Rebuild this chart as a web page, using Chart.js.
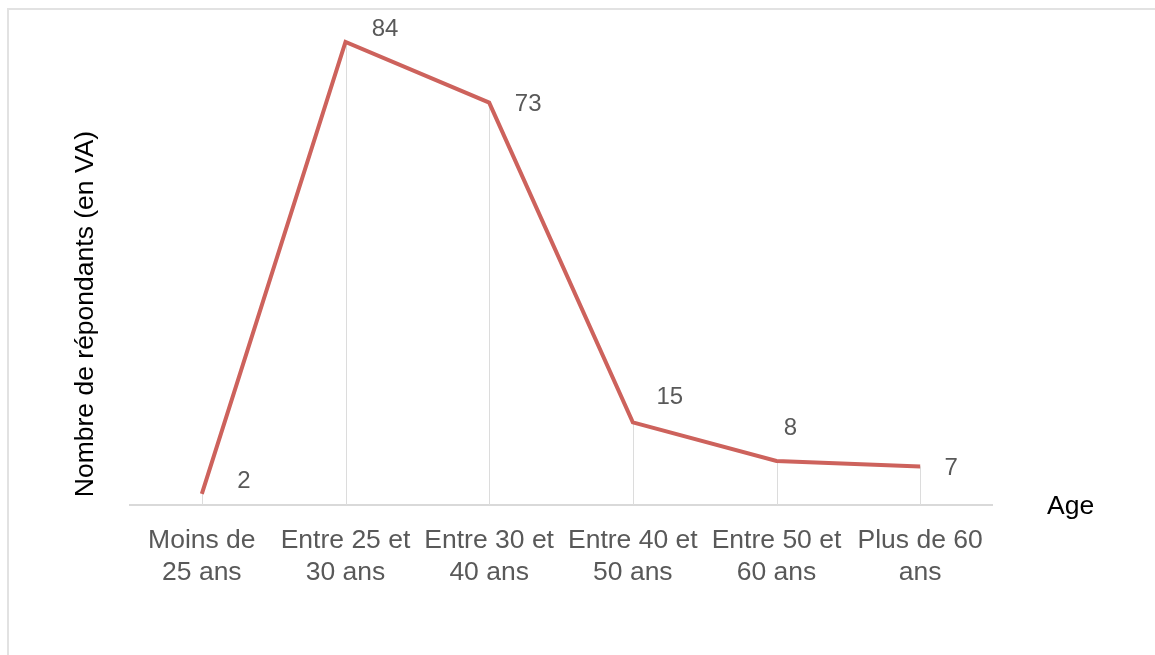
<!DOCTYPE html>
<html>
<head>
<meta charset="utf-8">
<script src="https://cdn.jsdelivr.net/npm/chart.js@4/dist/chart.umd.min.js"></script>
<style>
  html, body { margin: 0; padding: 0; background: #fff; overflow: hidden; }
  #frame { position: absolute; left: 7px; top: 8px; width: 2000px; height: 2000px; border: 2px solid #e2e2e2; }
  #chart { position: absolute; left: 0; top: 0; }
</style>
</head>
<body>
<div id="frame"></div>
<canvas id="chart" width="1155" height="655"></canvas>
<script>
const categories = [
   ["Moins de", "25 ans"],
   ["Entre 25 et", "30 ans"],
   ["Entre 30 et", "40 ans"],
   ["Entre 40 et", "50 ans"],
   ["Entre 50 et", "60 ans"],
   ["Plus de 60", "ans"]
]
const respondents = [2, 84, 73, 15, 8, 7]
const yTitle = "Nombre de répondants (en VA)"
const xTitle = "Age"

const font = "'Liberation Sans', Arial, sans-serif"

// drop lines, value labels and the two axis titles
const extras = {
   id: "extras",
   beforeDatasetsDraw(chart) {
      const ctx = chart.ctx
      const x = chart.scales.x, y = chart.scales.y
      ctx.save()
      ctx.strokeStyle = "#dcdcdc"
      ctx.lineWidth = 1
      respondents.forEach((v, i) => {
         const px = Math.round(x.getPixelForValue(i)) + 0.5
         ctx.beginPath()
         ctx.moveTo(px, y.getPixelForValue(v))
         ctx.lineTo(px, y.getPixelForValue(0))
         ctx.stroke()
      })
      ctx.restore()
   },
   afterDraw(chart, args, opts) {
      const ctx = chart.ctx
      const meta = chart.getDatasetMeta(0)
      ctx.save()
      ctx.font = "24px " + font
      ctx.fillStyle = "#595959"
      ctx.textAlign = "center"
      ctx.textBaseline = "middle"
      meta.data.forEach((pt, i) => {
         const [dx, dy] = opts.offsets[i]
         ctx.fillText(String(respondents[i]), pt.x + dx, pt.y + dy)
      })

      ctx.font = "26.5px " + font
      ctx.fillStyle = "#000"
      ctx.textAlign = "left"
      ctx.fillText(xTitle, 1047, 507)

      ctx.translate(86, 314)
      ctx.rotate(-Math.PI / 2)
      ctx.textAlign = "center"
      ctx.fillText(yTitle, 0, 0)
      ctx.restore()
   }
}

new Chart(document.getElementById("chart"), {
   type: "line",
   data: {
      labels: categories,
      datasets: [{
         data: respondents,
         borderColor: "#cd625c",
         borderWidth: 4,
         borderJoinStyle: "miter",
         pointRadius: 0,
         tension: 0,
         clip: false
      }]
   },
   options: {
      responsive: false,
      animation: false,
      events: [],
      layout: {
         padding: { left: 130, right: 163, top: 42, bottom: 0 }
      },
      plugins: {
         legend: { display: false },
         tooltip: { enabled: false },
         extras: {
            offsets: [[42, -13], [39.5, -12.5], [39, 1.5], [37, -25], [14, -32.5], [31, 2]]
         }
      },
      scales: {
         x: {
            offset: true,
            afterFit: s => { s.height = 150 },
            grid: { display: true, color: "transparent", drawTicks: false },
            border: { display: true, color: "#d9d9d9", width: 2 },
            ticks: {
               padding: 19,
               color: "#595959",
               font: { size: 26.5, family: font, lineHeight: 1.23 },
               maxRotation: 0,
               autoSkip: false
            }
         },
         y: {
            display: false,
            min: 0,
            max: 84
         }
      }
   },
   plugins: [extras]
})
</script>
</body>
</html>
